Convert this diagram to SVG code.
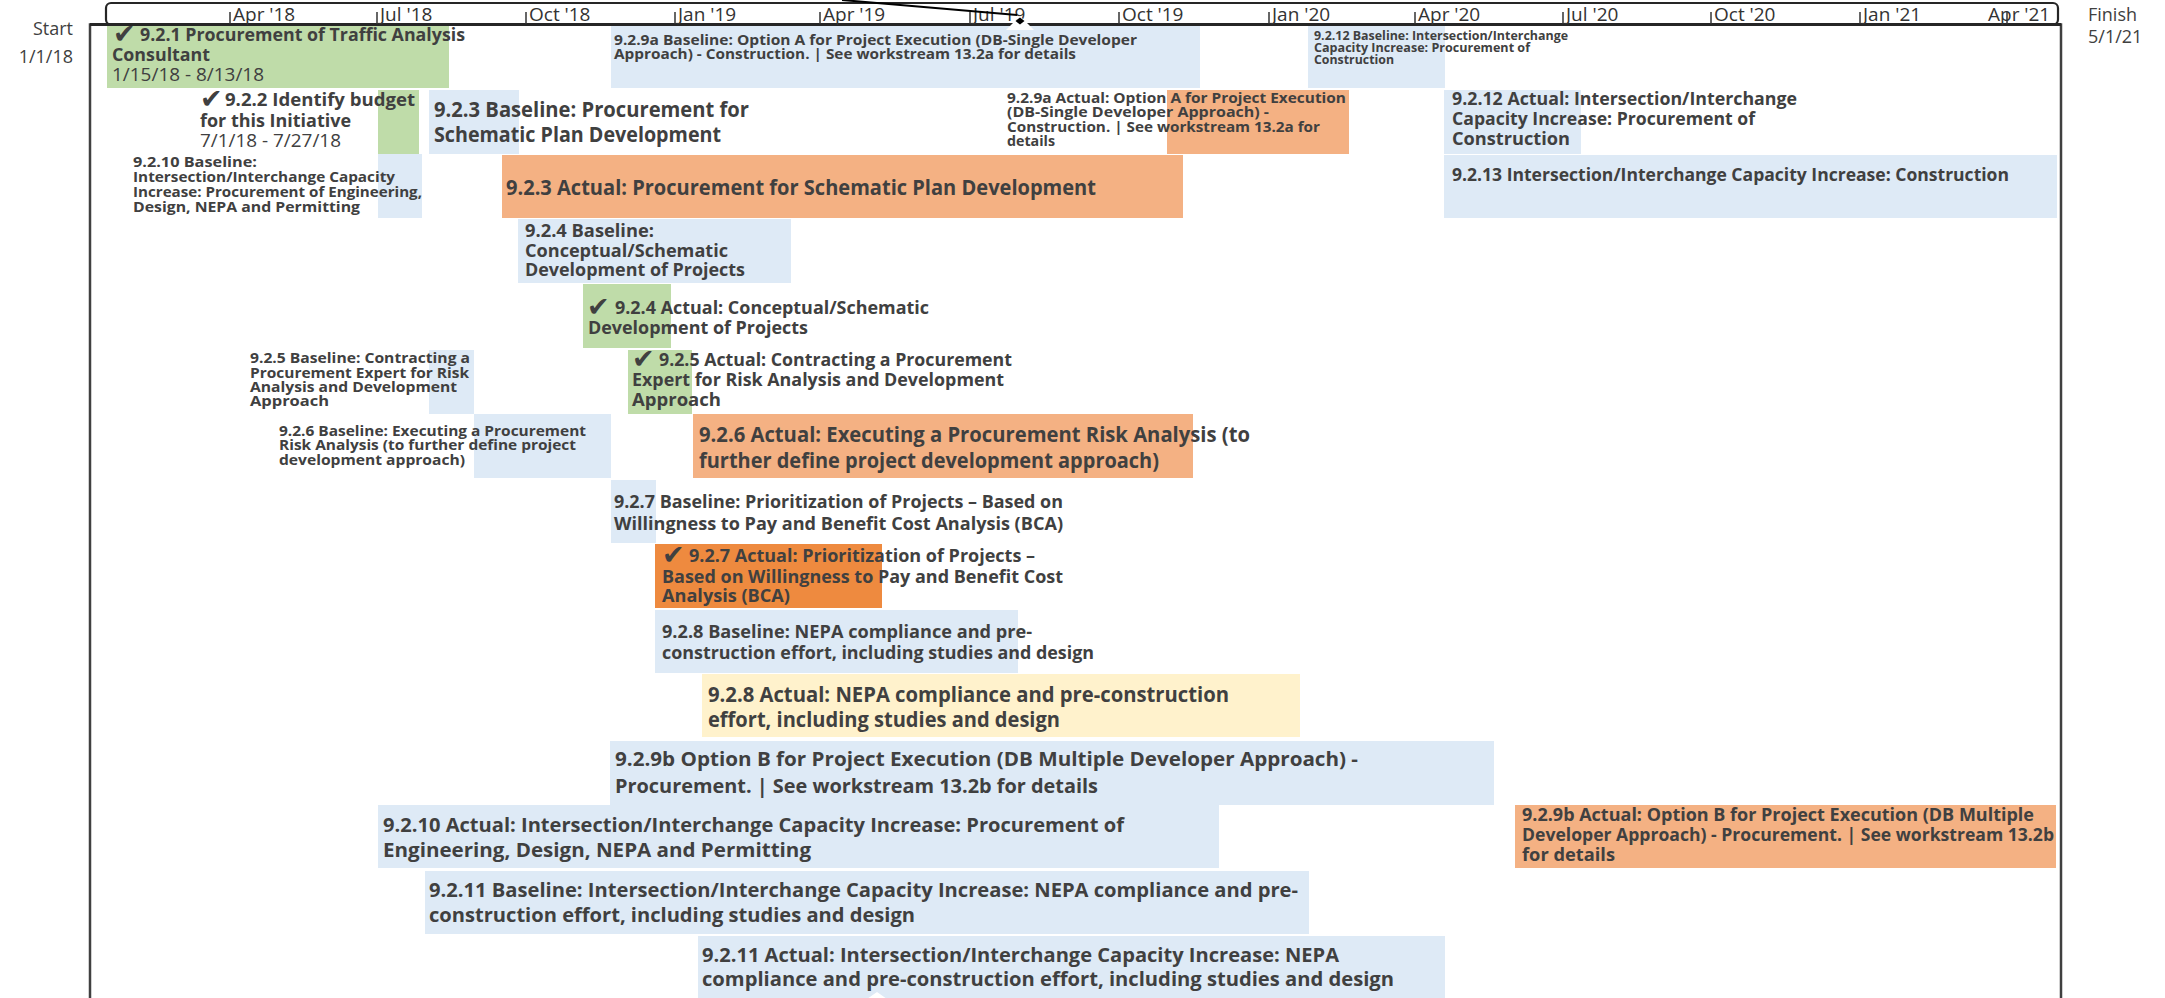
<svg xmlns="http://www.w3.org/2000/svg" width="2165" height="998" viewBox="0 0 2165 998">
  <style>
    .lbl { font-family: "Open Sans", "Noto Sans", "Liberation Sans", sans-serif; font-weight: 700; fill: #404040; }
    .reg { font-family: "Open Sans", "Noto Sans", "Liberation Sans", sans-serif; font-weight: 400; fill: #404040; }
    .tick-lbl { font-family: "Open Sans", "Noto Sans", "Liberation Sans", sans-serif; font-weight: 400; fill: #333333; font-size: 19px; }
    .chk { font-family: "DejaVu Sans", sans-serif; font-weight: 700; fill: #404040; font-size: 27px; }
    .s12 { font-size: 12px; }
    .s14 { font-size: 14px; }
    .s15 { font-size: 14.5px; }
    .s18 { font-size: 17.5px; }
    .s20 { font-size: 19.5px; }
    .s21 { font-size: 21px; }
    .green { fill: #BFDCA9; }
    .blue { fill: #DEEAF6; }
    .orange { fill: #F4B183; }
    .dorange { fill: #EE8A3F; }
    .yellow { fill: #FFF2CC; }
    .frame { fill: none; stroke: #404040; stroke-width: 2.5; }
    .tick { stroke: #333333; stroke-width: 1.5; }
  </style>

  <rect width="2165" height="998" fill="#ffffff"/>

  <!-- chart frame -->
  <g id="frame">
    <polyline class="frame" points="90,998 90,24.5 106,24.5"/>
    <polyline class="frame" points="2058,24.5 2061,24.5 2061,998"/>
  </g>

  <!-- Start / Finish captions -->
  <g id="start">
    <text class="reg" font-size="18" x="73" y="35" text-anchor="end">Start</text>
    <text class="reg" font-size="18" x="73" y="63" text-anchor="end">1/1/18</text>
  </g>
  <g id="finish">
    <text class="reg" font-size="18" x="2088" y="21">Finish</text>
    <text class="reg" font-size="18" x="2088" y="43">5/1/21</text>
  </g>

  <!-- bars and labels, one group per task -->
  <g id="n921">
    <rect class="green" x="107" y="25" width="342" height="63"/>
    <text class="chk" x="113" y="43">✔</text>
    <text class="lbl s18" x="140" y="41" textLength="325" lengthAdjust="spacingAndGlyphs">9.2.1 Procurement of Traffic Analysis</text>
    <text class="lbl s18" x="112" y="61" textLength="98" lengthAdjust="spacingAndGlyphs">Consultant</text>
    <text class="reg s18" x="112" y="81" textLength="152" lengthAdjust="spacingAndGlyphs">1/15/18 - 8/13/18</text>
  </g>

  <g id="n929a-base">
    <rect class="blue" x="611" y="25" width="589" height="63"/>
    <text class="lbl s15" x="614" y="45" textLength="523" lengthAdjust="spacingAndGlyphs">9.2.9a Baseline: Option A for Project Execution (DB-Single Developer</text>
    <text class="lbl s15" x="614" y="59" textLength="462" lengthAdjust="spacingAndGlyphs">Approach) - Construction. | See workstream 13.2a for details</text>
  </g>

  <g id="n9212-base">
    <rect class="blue" x="1308" y="25" width="137" height="63"/>
    <text class="lbl s12" x="1314" y="40" textLength="254" lengthAdjust="spacingAndGlyphs">9.2.12  Baseline: Intersection/Interchange</text>
    <text class="lbl s12" x="1314" y="52" textLength="216" lengthAdjust="spacingAndGlyphs">Capacity  Increase:  Procurement  of</text>
    <text class="lbl s12" x="1314" y="64" textLength="80" lengthAdjust="spacingAndGlyphs">Construction</text>
  </g>

  <g id="n922">
    <rect class="green" x="378" y="90" width="41" height="64"/>
    <text class="chk" x="200" y="108">✔</text>
    <text class="lbl s18" x="225" y="106" textLength="190" lengthAdjust="spacingAndGlyphs">9.2.2 Identify budget</text>
    <text class="lbl s18" x="200" y="127" textLength="151" lengthAdjust="spacingAndGlyphs">for this Initiative</text>
    <text class="reg s18" x="200" y="147" textLength="141" lengthAdjust="spacingAndGlyphs">7/1/18 - 7/27/18</text>
  </g>

  <g id="n923-base">
    <rect class="blue" x="429" y="90" width="90" height="64"/>
    <text class="lbl s21" x="434" y="117" textLength="315" lengthAdjust="spacingAndGlyphs">9.2.3 Baseline:  Procurement  for</text>
    <text class="lbl s21" x="434" y="142" textLength="287" lengthAdjust="spacingAndGlyphs">Schematic Plan Development</text>
  </g>

  <g id="n929a-act">
    <rect class="orange" x="1167" y="90" width="182" height="64"/>
    <text class="lbl s15" x="1007" y="103" textLength="339" lengthAdjust="spacingAndGlyphs">9.2.9a Actual: Option A for Project Execution</text>
    <text class="lbl s15" x="1007" y="117" textLength="262" lengthAdjust="spacingAndGlyphs">(DB-Single Developer Approach) -</text>
    <text class="lbl s15" x="1007" y="132" textLength="313" lengthAdjust="spacingAndGlyphs">Construction. | See workstream 13.2a for</text>
    <text class="lbl s15" x="1007" y="146" textLength="48" lengthAdjust="spacingAndGlyphs">details</text>
  </g>

  <g id="n9212-act">
    <rect class="blue" x="1444" y="90" width="137" height="64"/>
    <text class="lbl s18" x="1452" y="105" textLength="345" lengthAdjust="spacingAndGlyphs">9.2.12 Actual: Intersection/Interchange</text>
    <text class="lbl s18" x="1452" y="125" textLength="303" lengthAdjust="spacingAndGlyphs">Capacity Increase: Procurement of</text>
    <text class="lbl s18" x="1452" y="145" textLength="118" lengthAdjust="spacingAndGlyphs">Construction</text>
  </g>

  <g id="n9210-base">
    <rect class="blue" x="378" y="154" width="44" height="64"/>
    <text class="lbl s14" x="133" y="167" textLength="124" lengthAdjust="spacingAndGlyphs">9.2.10 Baseline:</text>
    <text class="lbl s14" x="133" y="182" textLength="262" lengthAdjust="spacingAndGlyphs">Intersection/Interchange Capacity</text>
    <text class="lbl s14" x="133" y="197" textLength="289" lengthAdjust="spacingAndGlyphs">Increase: Procurement of Engineering,</text>
    <text class="lbl s14" x="133" y="212" textLength="227" lengthAdjust="spacingAndGlyphs">Design, NEPA and Permitting</text>
  </g>

  <g id="n923-act">
    <rect class="orange" x="502" y="155" width="681" height="63"/>
    <text class="lbl s21" x="506" y="195" textLength="590" lengthAdjust="spacingAndGlyphs">9.2.3 Actual: Procurement  for Schematic Plan  Development</text>
  </g>

  <g id="n9213">
    <rect class="blue" x="1444" y="155" width="613" height="63"/>
    <text class="lbl s18" x="1452" y="181" textLength="557" lengthAdjust="spacingAndGlyphs">9.2.13 Intersection/Interchange Capacity Increase: Construction</text>
  </g>

  <g id="n924-base">
    <rect class="blue" x="518" y="219" width="273" height="64"/>
    <text class="lbl s18" x="525" y="237" textLength="129" lengthAdjust="spacingAndGlyphs">9.2.4 Baseline:</text>
    <text class="lbl s18" x="525" y="257" textLength="203" lengthAdjust="spacingAndGlyphs">Conceptual/Schematic</text>
    <text class="lbl s18" x="525" y="276" textLength="220" lengthAdjust="spacingAndGlyphs">Development of Projects</text>
  </g>

  <g id="n924-act">
    <rect class="green" x="583" y="284" width="88" height="64"/>
    <text class="chk" x="587" y="316">✔</text>
    <text class="lbl s18" x="615" y="314" textLength="314" lengthAdjust="spacingAndGlyphs">9.2.4 Actual: Conceptual/Schematic</text>
    <text class="lbl s18" x="588" y="334" textLength="220" lengthAdjust="spacingAndGlyphs">Development of Projects</text>
  </g>

  <g id="n925-base">
    <rect class="blue" x="429" y="350" width="45" height="64"/>
    <text class="lbl s14" x="250" y="363" textLength="220" lengthAdjust="spacingAndGlyphs">9.2.5 Baseline: Contracting a</text>
    <text class="lbl s14" x="250" y="378" textLength="219" lengthAdjust="spacingAndGlyphs">Procurement Expert for Risk</text>
    <text class="lbl s14" x="250" y="392" textLength="207" lengthAdjust="spacingAndGlyphs">Analysis and Development</text>
    <text class="lbl s14" x="250" y="406" textLength="79" lengthAdjust="spacingAndGlyphs">Approach</text>
  </g>

  <g id="n925-act">
    <rect class="green" x="628" y="350" width="64" height="64"/>
    <text class="chk" x="632" y="368">✔</text>
    <text class="lbl s18" x="659" y="366" textLength="353" lengthAdjust="spacingAndGlyphs">9.2.5 Actual: Contracting a Procurement</text>
    <text class="lbl s18" x="632" y="386" textLength="372" lengthAdjust="spacingAndGlyphs">Expert for Risk Analysis and Development</text>
    <text class="lbl s18" x="632" y="406" textLength="89" lengthAdjust="spacingAndGlyphs">Approach</text>
  </g>

  <g id="n926-base">
    <rect class="blue" x="474" y="414" width="137" height="64"/>
    <text class="lbl s14" x="279" y="436" textLength="307" lengthAdjust="spacingAndGlyphs">9.2.6 Baseline: Executing a Procurement</text>
    <text class="lbl s14" x="279" y="450" textLength="297" lengthAdjust="spacingAndGlyphs">Risk Analysis (to further define project</text>
    <text class="lbl s14" x="279" y="465" textLength="186" lengthAdjust="spacingAndGlyphs">development approach)</text>
  </g>

  <g id="n926-act">
    <rect class="orange" x="693" y="414" width="500" height="64"/>
    <text class="lbl s21" x="699" y="442" textLength="551" lengthAdjust="spacingAndGlyphs">9.2.6 Actual: Executing a Procurement  Risk Analysis  (to</text>
    <text class="lbl s21" x="699" y="468" textLength="460" lengthAdjust="spacingAndGlyphs">further define  project development  approach)</text>
  </g>

  <g id="n927-base">
    <rect class="blue" x="611" y="480" width="45" height="63"/>
    <text class="lbl s18" x="614" y="508" textLength="449" lengthAdjust="spacingAndGlyphs">9.2.7 Baseline: Prioritization of Projects – Based on</text>
    <text class="lbl s18" x="614" y="530" textLength="449" lengthAdjust="spacingAndGlyphs">Willingness to Pay and Benefit Cost Analysis (BCA)</text>
  </g>

  <g id="n927-act">
    <rect class="dorange" x="655" y="544" width="227" height="64"/>
    <text class="chk" x="662" y="564">✔</text>
    <text class="lbl s18" x="689" y="562" textLength="346" lengthAdjust="spacingAndGlyphs">9.2.7 Actual: Prioritization of Projects –</text>
    <text class="lbl s18" x="662" y="583" textLength="401" lengthAdjust="spacingAndGlyphs">Based on Willingness to Pay and Benefit Cost</text>
    <text class="lbl s18" x="662" y="602" textLength="128" lengthAdjust="spacingAndGlyphs">Analysis (BCA)</text>
  </g>

  <g id="n928-base">
    <rect class="blue" x="655" y="610" width="363" height="63"/>
    <text class="lbl s18" x="662" y="638" textLength="370" lengthAdjust="spacingAndGlyphs">9.2.8 Baseline: NEPA compliance and pre-</text>
    <text class="lbl s18" x="662" y="659" textLength="432" lengthAdjust="spacingAndGlyphs">construction effort, including studies and design</text>
  </g>

  <g id="n928-act">
    <rect class="yellow" x="702" y="674" width="598" height="63"/>
    <text class="lbl s21" x="708" y="702" textLength="521" lengthAdjust="spacingAndGlyphs">9.2.8 Actual: NEPA compliance and pre-construction</text>
    <text class="lbl s21" x="708" y="727" textLength="352" lengthAdjust="spacingAndGlyphs">effort, including studies and design</text>
  </g>

  <g id="n929b">
    <rect class="blue" x="610" y="741" width="884" height="64"/>
    <text class="lbl s20" x="615" y="766" textLength="743" lengthAdjust="spacingAndGlyphs">9.2.9b Option B  for Project Execution (DB Multiple Developer  Approach) -</text>
    <text class="lbl s20" x="615" y="793" textLength="483" lengthAdjust="spacingAndGlyphs">Procurement.  | See workstream  13.2b for details</text>
  </g>

  <g id="n9210-act">
    <rect class="blue" x="378" y="805" width="841" height="63"/>
    <text class="lbl s20" x="383" y="832" textLength="741" lengthAdjust="spacingAndGlyphs">9.2.10 Actual: Intersection/Interchange  Capacity Increase:  Procurement  of</text>
    <text class="lbl s20" x="383" y="857" textLength="428" lengthAdjust="spacingAndGlyphs">Engineering,  Design,  NEPA and  Permitting</text>
  </g>

  <g id="n929b-act">
    <rect class="orange" x="1515" y="805" width="541" height="63"/>
    <text class="lbl s18" x="1522" y="821" textLength="512" lengthAdjust="spacingAndGlyphs">9.2.9b Actual: Option B for Project Execution (DB Multiple</text>
    <text class="lbl s18" x="1522" y="841" textLength="532" lengthAdjust="spacingAndGlyphs">Developer Approach) - Procurement. | See workstream 13.2b</text>
    <text class="lbl s18" x="1522" y="861" textLength="93" lengthAdjust="spacingAndGlyphs">for details</text>
  </g>

  <g id="n9211-base">
    <rect class="blue" x="425" y="871" width="884" height="63"/>
    <text class="lbl s20" x="429" y="897" textLength="869" lengthAdjust="spacingAndGlyphs">9.2.11 Baseline: Intersection/Interchange  Capacity Increase:  NEPA compliance and pre-</text>
    <text class="lbl s20" x="429" y="922" textLength="486" lengthAdjust="spacingAndGlyphs">construction effort, including studies and design</text>
  </g>

  <g id="n9211-act">
    <rect class="blue" x="698" y="936" width="747" height="62"/>
    <text class="lbl s20" x="702" y="962" textLength="637" lengthAdjust="spacingAndGlyphs">9.2.11 Actual: Intersection/Interchange  Capacity Increase:  NEPA</text>
    <text class="lbl s20" x="702" y="986" textLength="692" lengthAdjust="spacingAndGlyphs">compliance and pre-construction  effort, including studies and design</text>
  </g>

  <!-- time scale -->
  <g id="timescale">
    <rect x="106" y="3" width="1952" height="21.5" rx="5" ry="5" fill="#ffffff" stroke="#262626" stroke-width="2.2"/>
    <line x1="90" y1="24.5" x2="2061" y2="24.5" stroke="#262626" stroke-width="3"/>
    <line class="tick" x1="230" y1="12" x2="230" y2="24"/>
    <line class="tick" x1="377" y1="12" x2="377" y2="24"/>
    <line class="tick" x1="526" y1="12" x2="526" y2="24"/>
    <line class="tick" x1="675" y1="12" x2="675" y2="24"/>
    <line class="tick" x1="820" y1="12" x2="820" y2="24"/>
    <line class="tick" x1="970" y1="12" x2="970" y2="24"/>
    <line class="tick" x1="1119" y1="12" x2="1119" y2="24"/>
    <line class="tick" x1="1269" y1="12" x2="1269" y2="24"/>
    <line class="tick" x1="1415" y1="12" x2="1415" y2="24"/>
    <line class="tick" x1="1563" y1="12" x2="1563" y2="24"/>
    <line class="tick" x1="1711" y1="12" x2="1711" y2="24"/>
    <line class="tick" x1="1860" y1="12" x2="1860" y2="24"/>
    <line class="tick" x1="2007" y1="12" x2="2007" y2="24"/>
    <text class="tick-lbl" x="233" y="21">Apr '18</text>
    <text class="tick-lbl" x="380" y="21">Jul '18</text>
    <text class="tick-lbl" x="529" y="21">Oct '18</text>
    <text class="tick-lbl" x="678" y="21">Jan '19</text>
    <text class="tick-lbl" x="823" y="21">Apr '19</text>
    <text class="tick-lbl" x="973" y="21">Jul '19</text>
    <text class="tick-lbl" x="1122" y="21">Oct '19</text>
    <text class="tick-lbl" x="1272" y="21">Jan '20</text>
    <text class="tick-lbl" x="1418" y="21">Apr '20</text>
    <text class="tick-lbl" x="1566" y="21">Jul '20</text>
    <text class="tick-lbl" x="1714" y="21">Oct '20</text>
    <text class="tick-lbl" x="1863" y="21">Jan '21</text>
    <text class="tick-lbl" x="1988" y="21">Apr '21</text>
  </g>

  <!-- today marker leader and pointers -->
  <g id="connectors">
    <line x1="842" y1="0" x2="1017" y2="15" stroke="#000000" stroke-width="2"/>
    <polygon points="1020,16 1006,30 1034,30" fill="#ffffff"/>
    <polygon points="1020,17.5 1024.5,21 1020,24.5 1015.5,21" fill="#000000"/>
    <polygon points="877,992 867,999 887,999" fill="#ffffff"/>
  </g>
</svg>
